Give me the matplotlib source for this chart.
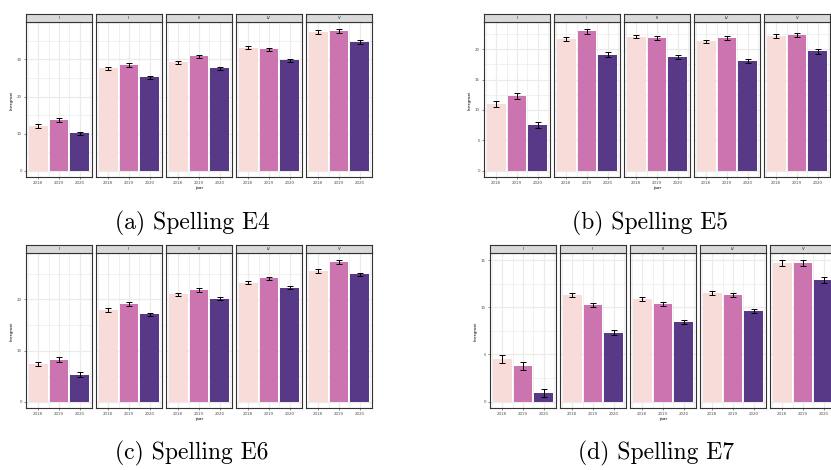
import numpy as np
import matplotlib
matplotlib.use("Agg")
import matplotlib.pyplot as plt

# data (leergroei per niveau en jaar)
years = [2018, 2019, 2020]
levels = ["I", "II", "III", "IV", "V"]
colors = ["#F8DCD9", "#CC74B0", "#573987"]

e4_vals = [[12.1, 13.7, 10.1], [27.6, 28.5, 25.2], [29.3, 30.9, 27.7],
           [33.1, 32.8, 29.8], [37.4, 37.6, 34.7]]
e4_err = [[0.6, 0.6, 0.5], [0.5, 0.5, 0.4], [0.4, 0.4, 0.4],
          [0.4, 0.4, 0.4], [0.5, 0.5, 0.5]]

e5_vals = [[11.0, 12.3, 7.5], [21.7, 23.0, 19.1], [22.1, 21.8, 18.7],
           [21.3, 21.9, 18.1], [22.2, 22.3, 19.7]]
e5_err = [[0.55, 0.5, 0.55], [0.4, 0.4, 0.4], [0.3, 0.35, 0.35],
          [0.3, 0.35, 0.35], [0.35, 0.35, 0.4]]

e6_vals = [[7.35, 8.2, 5.3], [17.9, 19.1, 17.1], [21.0, 21.8, 20.1],
           [23.2, 24.1, 22.2], [25.5, 27.3, 24.9]]
e6_err = [[0.45, 0.5, 0.45], [0.35, 0.35, 0.3], [0.3, 0.3, 0.25],
          [0.3, 0.3, 0.3], [0.35, 0.35, 0.3]]

e7_vals = [[4.55, 3.8, 0.95], [11.3, 10.25, 7.3], [10.9, 10.35, 8.45],
           [11.5, 11.3, 9.6], [14.7, 14.7, 12.9]]
e7_err = [[0.4, 0.4, 0.4], [0.25, 0.25, 0.25], [0.2, 0.2, 0.2],
          [0.2, 0.2, 0.2], [0.3, 0.3, 0.3]]

W, H = 831, 470
fig = plt.figure(figsize=(W / 100, H / 100), dpi=100)

GRID = "#EBEBEB"
DARK = "#333333"


def px_rect(x0, y0, w, h):
    return [x0 / W, 1 - (y0 + h) / H, w / W, h / H]


def draw(left, strip_top, vals, errs, ylim, yticks, yminor, caption, cap_xy):
    fw, step = 66.6, 70.0
    strip_h = 8.8
    panel_top = strip_top + strip_h
    panel_h = 155.0
    for i, lev in enumerate(levels):
        x0 = left + i * step
        ax = fig.add_axes(px_rect(x0, panel_top, fw, panel_h))
        ax.set_xlim(2017.405, 2020.595)
        ax.set_ylim(*ylim)
        ax.set_xticks(years)
        ax.set_xticks([2017.5, 2018.5, 2019.5, 2020.5], minor=True)
        ax.set_yticks(yticks)
        ax.set_yticks(yminor, minor=True)
        ax.grid(which="major", color=GRID, lw=0.9)
        ax.grid(which="minor", color=GRID, lw=0.5)
        ax.set_axisbelow(True)
        ax.bar(years, vals[i], width=0.9, color=colors, zorder=2)
        ax.errorbar(years, vals[i], yerr=errs[i], fmt="none", ecolor="black",
                    elinewidth=0.7, capsize=2.5, capthick=0.7, zorder=3)
        for s in ax.spines.values():
            s.set_color(DARK)
            s.set_linewidth(0.8)
        ax.tick_params(which="major", length=1.6, width=0.4, color=DARK,
                       labelsize=2.9, labelcolor="#4D4D4D", pad=1.2)
        ax.tick_params(which="minor", length=0)
        ax.set_xticklabels([str(y) for y in years])
        if i == 0:
            ax.set_yticklabels([str(t) for t in yticks])
            ax.set_ylabel("leergroei", fontsize=3.2, labelpad=2)
        else:
            ax.tick_params(axis="y", labelleft=False, left=False)
        # strip
        sx = fig.add_axes(px_rect(x0, strip_top, fw, strip_h))
        sx.set_facecolor("#D9D9D9")
        sx.set_xticks([])
        sx.set_yticks([])
        for s in sx.spines.values():
            s.set_color(DARK)
            s.set_linewidth(0.8)
        sx.text(0.5, 0.5, lev, ha="center", va="center", fontsize=2.9,
                color="#1A1A1A", transform=sx.transAxes)
    xc = left + (4 * step + fw) / 2
    fig.text(xc / W, 1 - (panel_top + panel_h + 11) / H, "jaar",
             ha="center", va="center", fontsize=3.2)
    fig.text(cap_xy[0] / W, 1 - cap_xy[1] / H, caption, ha="center",
             va="center", fontsize=17, family="cmr10")


draw(25.7, 13.5, e4_vals, e4_err, (-1.7, 40.0), [0, 10, 20, 30],
     [5, 15, 25, 35], "(a) Spelling E4", (192, 223))
draw(483.7, 13.5, e5_vals, e5_err, (-1.1, 24.45), [0, 5, 10, 15, 20],
     [2.5, 7.5, 12.5, 17.5, 22.5], "(b) Spelling E5", (650, 223))
draw(25.7, 244.5, e6_vals, e6_err, (-1.25, 28.95), [0, 10, 20],
     [5, 15, 25], "(c) Spelling E6", (192, 453))
draw(489.7, 244.5, e7_vals, e7_err, (-0.7, 15.72), [0, 5, 10, 15],
     [2.5, 7.5, 12.5], "(d) Spelling E7", (656, 453))

fig.savefig("out.png", dpi=100)
